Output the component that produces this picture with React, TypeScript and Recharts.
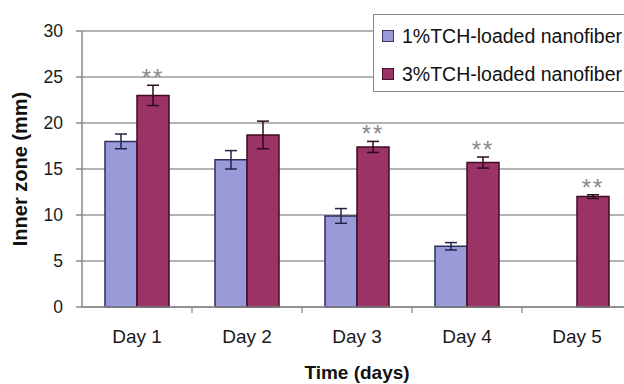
import {
  BarChart,
  Bar,
  XAxis,
  YAxis,
  CartesianGrid,
  ErrorBar,
  LabelList,
  Legend,
} from 'recharts'

const days = ['Day 1', 'Day 2', 'Day 3', 'Day 4', 'Day 5']
const tch1 = [18.0, 16.0, 9.9, 6.6, null]
const tch1Err = [0.8, 1.0, 0.8, 0.4, null]
const tch3 = [23.0, 18.7, 17.4, 15.7, 12.0]
const tch3Err = [1.1, 1.5, 0.6, 0.6, 0.2]
const significance = ['**', '', '**', '**', '**']
const yTicks = [0, 5, 10, 15, 20, 25, 30]
const seriesNames = ['1%TCH-loaded nanofiber', '3%TCH-loaded nanofiber']

const BLUE = '#9a9ad8'
const RED = '#9b3366'
const FONT = 'Arial, "Liberation Sans", sans-serif'

const data = days.map((day, i) => ({
  day,
  tch1: tch1[i],
  tch1Err: tch1Err[i],
  tch3: tch3[i],
  tch3Err: tch3Err[i],
  sig: significance[i],
}))

function DayTick(props: any) {
  const { x, y, payload } = props
  const off = payload?.offset ?? 0
  return (
    <g>
      <text x={x} y={y} dy="0.71em" textAnchor="middle" fontSize={19} fill="#1a1a1a" fontFamily={FONT}>
        {payload.value}
      </text>
      {off ? <line x1={x + off} x2={x + off} y1={y - 23} y2={y - 17} stroke="#888" strokeWidth={1.2} /> : null}
    </g>
  )
}

// "**" above the 3% bars, sitting clear of the error bar cap
function SigLabel(props: any) {
  const { x, y, width, height, value, index } = props
  const mark = significance[index]
  if (!mark || !value) return null
  const perUnit = Number(height) / Number(value)
  const top = Number(y) - (tch3Err[index] ?? 0) * perUnit
  return (
    <text
      x={Number(x) + Number(width) / 2}
      y={top + 1}
      textAnchor="middle"
      fontSize={24}
      letterSpacing={2}
      fill="#8a8a8a"
      fontFamily={FONT}
    >
      {mark}
    </text>
  )
}

function LegendBox() {
  const colors = [BLUE, RED]
  const borders = ['#3a3a6a', '#4a1028']
  return (
    <div
      style={{
        width: 270,
        height: 78,
        boxSizing: 'border-box',
        border: '1.5px solid #888',
        background: '#fff',
        fontFamily: FONT,
        fontSize: 19.5,
        color: '#111',
        paddingLeft: 8,
        paddingTop: 2,
      }}
    >
      {seriesNames.map((name, i) => (
        <div key={name} style={{ display: 'flex', alignItems: 'center', height: 38, whiteSpace: 'nowrap' }}>
          <span
            style={{
              display: 'inline-block',
              width: 12,
              height: 12,
              boxSizing: 'border-box',
              background: colors[i],
              border: `1.5px solid ${borders[i]}`,
              marginRight: 8,
            }}
          />
          {name}
        </div>
      ))}
    </div>
  )
}

export default function App() {
  return (
    <div
      style={{
        position: 'fixed',
        left: 0,
        top: 0,
        width: 624,
        height: 384,
        overflow: 'hidden',
        background: '#fff',
      }}
    >
      <BarChart
        width={640}
        height={384}
        data={data}
        margin={{ top: 31, right: 8, bottom: 0, left: 0 }}
        barSize={32}
        barGap={0}
      >
        <CartesianGrid vertical={false} stroke="#9a9a9a" strokeWidth={1.5} />
        <XAxis
          dataKey="day"
          height={77}
          stroke="#888"
          strokeWidth={1.5}
          tickLine={false}
          tickSize={6}
          tickMargin={17}
          tick={<DayTick />}
          label={{
            content: (p: any) => {
              const vb = p.viewBox
              return (
                <text
                  x={vb.x + vb.width / 2}
                  y={vb.y + 72}
                  textAnchor="middle"
                  fontSize={19}
                  fontWeight="bold"
                  fill="#111"
                  fontFamily={FONT}
                >
                  Time (days)
                </text>
              )
            },
          }}
        />
        <YAxis
          width={82}
          domain={[0, 30]}
          ticks={yTicks}
          interval={0}
          stroke="#888"
          strokeWidth={1.5}
          tickSize={6}
          tickMargin={13}
          tick={{ fontSize: 17.5, fill: '#1a1a1a', fontFamily: FONT }}
          label={{
            content: (p: any) => {
              const vb = p.viewBox
              const cx = vb.x + 20
              const cy = vb.y + vb.height / 2
              return (
                <text
                  x={cx}
                  y={cy}
                  transform={`rotate(-90 ${cx} ${cy})`}
                  textAnchor="middle"
                  dominantBaseline="central"
                  fontSize={20}
                  fontWeight="bold"
                  fill="#111"
                  fontFamily={FONT}
                >
                  Inner zone (mm)
                </text>
              )
            },
          }}
        />
        <Legend
          layout="horizontal"
          verticalAlign="middle"
          align="center"
          wrapperStyle={{ top: 14, left: 373, width: 270 }}
          content={() => <LegendBox />}
        />
        <Bar dataKey="tch1" name={seriesNames[0]} fill={BLUE} stroke="#2e2e5e" strokeWidth={1.5} isAnimationActive={false}>
          <ErrorBar dataKey="tch1Err" width={6} strokeWidth={1.5} stroke="#23234a" />
        </Bar>
        <Bar dataKey="tch3" name={seriesNames[1]} fill={RED} stroke="#3e0c24" strokeWidth={1.5} isAnimationActive={false}>
          <ErrorBar dataKey="tch3Err" width={6} strokeWidth={1.5} stroke="#2e0a1c" />
          <LabelList dataKey="tch3" content={<SigLabel />} />
        </Bar>
      </BarChart>
    </div>
  )
}
